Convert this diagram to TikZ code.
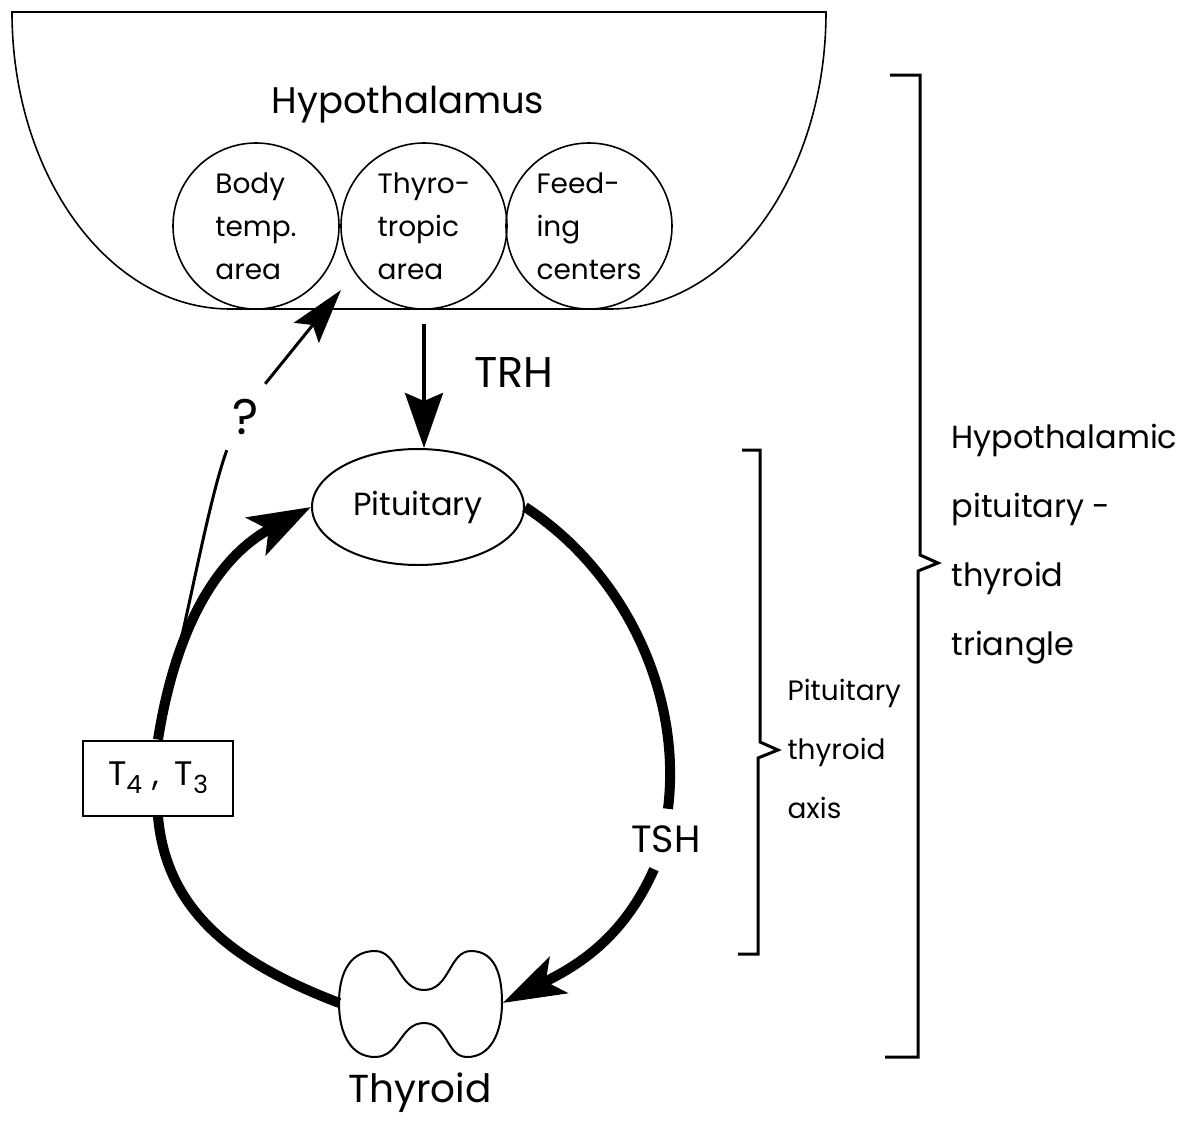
\documentclass[tikz,border=0pt]{standalone}
\usepackage{fontspec}
\setmainfont{Poppins}
\usetikzlibrary{arrows.meta,shapes.geometric,calc}
\newcommand{\fsz}[1]{\fontsize{#1}{#1}\selectfont}
\begin{document}
\begin{tikzpicture}[x=1pt,y=1pt,
  area/.style={circle, draw, line width=1.6pt, minimum size=166pt, inner sep=0pt, align=left, font=\fontsize{28}{43}\selectfont},
  heavy/.style={line width=10pt},
  thinarrow/.style={line width=3pt},
  bracket/.style={line width=3pt},
  bigtip/.style={-{Stealth[length=62pt,width=42pt,inset=14pt]}},
]
\useasboundingbox (0,0) rectangle (1195,-1135);
\fill[white] (0,0) rectangle (1195,-1135);

% hypothalamus bowl
\draw[line width=1.6pt] (12,-12) -- (826,-12)
  arc[start angle=0,end angle=-90,x radius=216,y radius=297] -- (230,-309)
  arc[start angle=270,end angle=180,x radius=218,y radius=297] -- cycle;
\node[font=\fsz{37}] (hypo) at (408,-105) {Hypothalamus};

\node[area] (body) at (256,-226) {Body\\temp.\\area};
\node[area] (thyro) at (424,-226) {Thyro-\\tropic\\area};
\node[area] (feed) at (589,-226) {Feed-\\ing\\centers};

% pituitary
\node[ellipse, draw, line width=2pt, minimum width=212pt, minimum height=116pt, font=\fsz{32}] (pit) at (418,-507) {Pituitary};

% TRH
\draw[line width=4pt, -{Stealth[length=55pt,width=38pt,inset=8pt]}] ([yshift=-14pt]thyro.south) -- (thyro.south |- pit.north);
\node[font=\fsz{43}] (trh) at (514,-373) {TRH};

% T4 T3 box
\node[draw, line width=2pt, fill=white, minimum width=150pt, minimum height=75pt, inner sep=0pt, font=\fsz{34}] (t43) at (158,-778)
  {T\raisebox{-8pt}{\fsz{25}4}\hspace{10pt},\hspace{16pt}T\raisebox{-8pt}{\fsz{25}3}};

% thyroid
\node[minimum width=163pt, minimum height=106pt, inner sep=0pt] (thy) at (421,-1003) {};
\draw[line width=2pt] (339,-1003)
  .. controls (339,-970) and (352,-951) .. (375,-951)
  .. controls (398,-951) and (398,-990) .. (424,-990)
  .. controls (450,-990) and (449,-951) .. (471,-951)
  .. controls (494,-951) and (502,-973) .. (502,-1002)
  .. controls (502,-1034) and (490,-1057) .. (467,-1057)
  .. controls (446,-1057) and (448,-1023) .. (424,-1023)
  .. controls (400,-1023) and (400,-1057) .. (375,-1057)
  .. controls (351,-1057) and (339,-1034) .. (339,-1003) -- cycle;
\node[font=\fsz{39}] (thylab) at (420,-1093) {Thyroid};

% TSH label
\node[font=\fsz{38}, minimum height=60pt, inner sep=0pt] (tsh) at (666,-839) {TSH};

% thick loop
\draw[heavy] (thy.west) to[out=159,in=275] (t43.south);
\draw[heavy, bigtip] (t43.north) to[out=81,in=208] coordinate[pos=0.16] (fb) (pit.west);
\draw[heavy] (pit.east) to[out=-33,in=83,looseness=0.9] ([xshift=2pt]tsh.north);
\draw[heavy, -{Stealth[length=62pt,width=40pt,inset=14pt]}] ([xshift=-12pt]tsh.south) to[out=246,in=26.6] (thy.east);

% question feedback
\node[font=\fsz{50}, minimum width=38pt, minimum height=66pt, inner sep=0pt] (q) at (246,-417) {?};
\coordinate (qtip) at (341,-290);
\draw[thinarrow] (fb) to[out=73,in=250,looseness=0.6] (q.south west);
\draw[thinarrow, -{Stealth[length=55pt,width=32pt,inset=10pt]}] (q.north east) -- (qtip);

% brackets
\draw[bracket] (742,-450) -- (760,-450) -- (760,-742) -- (778,-750) -- (758,-758) -- (758,-954) -- (738,-954);
\draw[bracket] (890,-75) -- (920,-75) -- (920,-555) -- (938,-563) -- (918,-571) -- (918,-1057) -- (885,-1057);

\node[anchor=west, align=left, font=\fontsize{32}{69}\selectfont] (hpt) at (948,-544) {Hypothalamic\\pituitary -\\thyroid\\triangle};
\node[anchor=west, align=left, font=\fontsize{28}{59}\selectfont] (pta) at (784,-749) {Pituitary\\thyroid\\axis};
\end{tikzpicture}
\end{document}
